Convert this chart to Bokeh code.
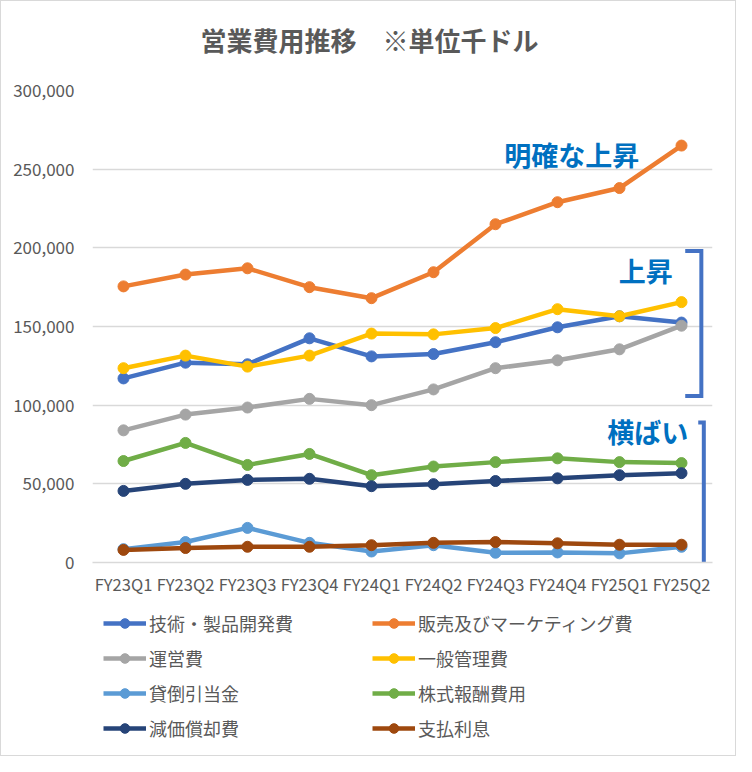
from bokeh.plotting import figure
from bokeh.layouts import column
from bokeh.models import (FixedTicker, NumeralTickFormatter, Legend, LegendItem,
                          Range1d, ColumnDataSource)
from bokeh.core.properties import value
from bokeh.embed import file_html
from bokeh.resources import INLINE

# ---------------- data ----------------
quarters = ["FY23Q1", "FY23Q2", "FY23Q3", "FY23Q4", "FY24Q1",
            "FY24Q2", "FY24Q3", "FY24Q4", "FY25Q1", "FY25Q2"]

series_names = ["技術・製品開発費", "販売及びマーケティング費", "運営費", "一般管理費",
                "貸倒引当金", "株式報酬費用", "減価償却費", "支払利息"]

rd       = [117000, 127000, 126000, 142500, 131000, 132500, 140000, 149500, 156500, 152500]
sales    = [175500, 183000, 187000, 175000, 168000, 184500, 215000, 229000, 238000, 265000]
ops      = [84000, 94000, 98500, 104000, 100000, 110000, 123500, 128500, 135500, 150500]
ga       = [123500, 131500, 124500, 131500, 145500, 145000, 149000, 161000, 156500, 165500]
baddebt  = [8500, 13000, 22000, 12500, 7000, 11000, 6200, 6400, 5800, 10000]
stock    = [64500, 76000, 62000, 69000, 55500, 61000, 63800, 66200, 63800, 63200]
deprec   = [45500, 50000, 52500, 53200, 48500, 49800, 51800, 53500, 55500, 56800]
interest = [8000, 9200, 10000, 10000, 11000, 12500, 13000, 12200, 11300, 11300]

series_values = [rd, sales, ops, ga, baddebt, stock, deprec, interest]
series_colors = ["#4472C4", "#ED7D31", "#A5A5A5", "#FFC000",
                 "#5B9BD5", "#70AD47", "#264478", "#9E480E"]

y_ticks = [0, 50000, 100000, 150000, 200000, 250000, 300000]

title_text = "営業費用推移　※単位千ドル"

# annotation texts and their anchor (x index, y value)
notes = ["明確な上昇", "上昇", "横ばい"]
notes_x = [8.32, 8.86, 9.11]
notes_y = [259500, 185500, 83500]

# bracket outlines (x in category index units, y in data units)
bracket_xs = [[9.06, 9.32, 9.32, 9.06], [9.27, 9.36, 9.36, 9.27]]
bracket_ys = [[198000, 198000, 105800, 105800], [89000, 89000, -1500, -1500]]

FONT = "Noto Sans CJK JP"
GRAY = "#595959"
W = 734
BL, BR = 91, 23                     # left / right borders shared by all strips
H_TITLE, H_MAIN, H_LEG = 60, 550, 144


def strip(height):
    f = figure(width=W, height=height, output_backend="svg", toolbar_location=None,
               x_range=Range1d(BL, W - BR), y_range=Range1d(0, height),
               x_axis_location=None, y_axis_location=None,
               min_border_left=BL, min_border_right=BR,
               min_border_top=0, min_border_bottom=0)
    f.outline_line_color = None
    f.xgrid.visible = False
    f.ygrid.visible = False
    f.background_fill_color = "white"
    f.border_fill_color = "white"
    return f


# ---------------- title strip ----------------
pt = strip(H_TITLE)
pt.text(x=[W / 2 + 1], y=[H_TITLE - 38], text=[title_text], text_font=value(FONT),
        text_font_size="26px", text_font_style="bold", text_color=GRAY,
        text_align="center", text_baseline="middle")

# ---------------- main chart ----------------
p = figure(width=W, height=H_MAIN, output_backend="svg", toolbar_location=None,
           x_range=Range1d(-0.5, 9.5), y_range=Range1d(0, 300000),
           min_border_left=BL, min_border_right=BR, min_border_top=29,
           min_border_bottom=49)
p.outline_line_color = None
p.background_fill_color = "white"
p.border_fill_color = "white"

p.xaxis.ticker = FixedTicker(ticks=list(range(len(quarters))))
p.xaxis.major_label_overrides = {i: q for i, q in enumerate(quarters)}
p.yaxis.ticker = FixedTicker(ticks=y_ticks)
p.yaxis.formatter = NumeralTickFormatter(format="0,0")
for ax in (p.xaxis, p.yaxis):
    ax.major_tick_line_color = None
    ax.minor_tick_line_color = None
    ax.major_tick_out = 0
    ax.major_tick_in = 0
    ax.minor_tick_out = 0
    ax.major_label_text_font = FONT
    ax.major_label_text_color = GRAY
p.xaxis.major_label_text_font_size = "16.5px"
p.yaxis.major_label_text_font_size = "17px"
p.yaxis.axis_line_color = None
p.xaxis.axis_line_color = "#D9D9D9"
p.xaxis.axis_line_width = 1.5
p.xaxis.major_label_standoff = 9
p.yaxis.major_label_standoff = 18

p.xgrid.grid_line_color = None
p.ygrid.ticker = FixedTicker(ticks=y_ticks)
p.ygrid.grid_line_color = "#D9D9D9"
p.ygrid.grid_line_width = 1.5

x_idx = list(range(len(quarters)))
for name, vals, col in zip(series_names, series_values, series_colors):
    src = ColumnDataSource(dict(x=x_idx, y=vals))
    p.line("x", "y", source=src, line_color=col, line_width=4.5)
    p.scatter("x", "y", source=src, size=11, fill_color=col, line_color=col)

p.multi_line(xs=bracket_xs, ys=bracket_ys, line_color="#4472C4", line_width=4,
             line_join="miter")

p.text(x=notes_x, y=notes_y, text=notes, text_font=value(FONT),
       text_font_size="27px", text_font_style="bold", text_color="#0070C0",
       text_align="right", text_baseline="middle")

# ---------------- legend strip ----------------
pl = strip(H_LEG)
leg_items = []
for name, col in zip(series_names, series_colors):
    # off-screen stand-ins that only provide the legend swatch styling
    ln = pl.line(x=[-9999, -9998], y=[-9999, -9999], line_color=col, line_width=4.5)
    sc = pl.scatter(x=[-9999], y=[-9999], size=11, fill_color=col, line_color=col)
    leg_items.append(LegendItem(label=name, renderers=[ln, sc]))
# legend fills column by column: reorder so that rows read left-to-right
order = [0, 2, 4, 6, 1, 3, 5, 7]
legend = Legend(items=[leg_items[i] for i in order], ncols=2, location=(11, 14))
legend.padding = 0
legend.margin = 0
legend.border_line_color = None
legend.background_fill_alpha = 0
legend.label_text_font = FONT
legend.label_text_font_size = "18px"
legend.label_text_color = GRAY
legend.glyph_width = 43
legend.glyph_height = 24
legend.label_width = 214
legend.label_height = 24
legend.label_standoff = 3
legend.spacing = 9
pl.add_layout(legend, "center")

layout = column(pt, p, pl, spacing=0)
layout.styles = {"border": "1px solid #d9d9d9"}

open("out.html", "w").write(file_html(layout, INLINE))
